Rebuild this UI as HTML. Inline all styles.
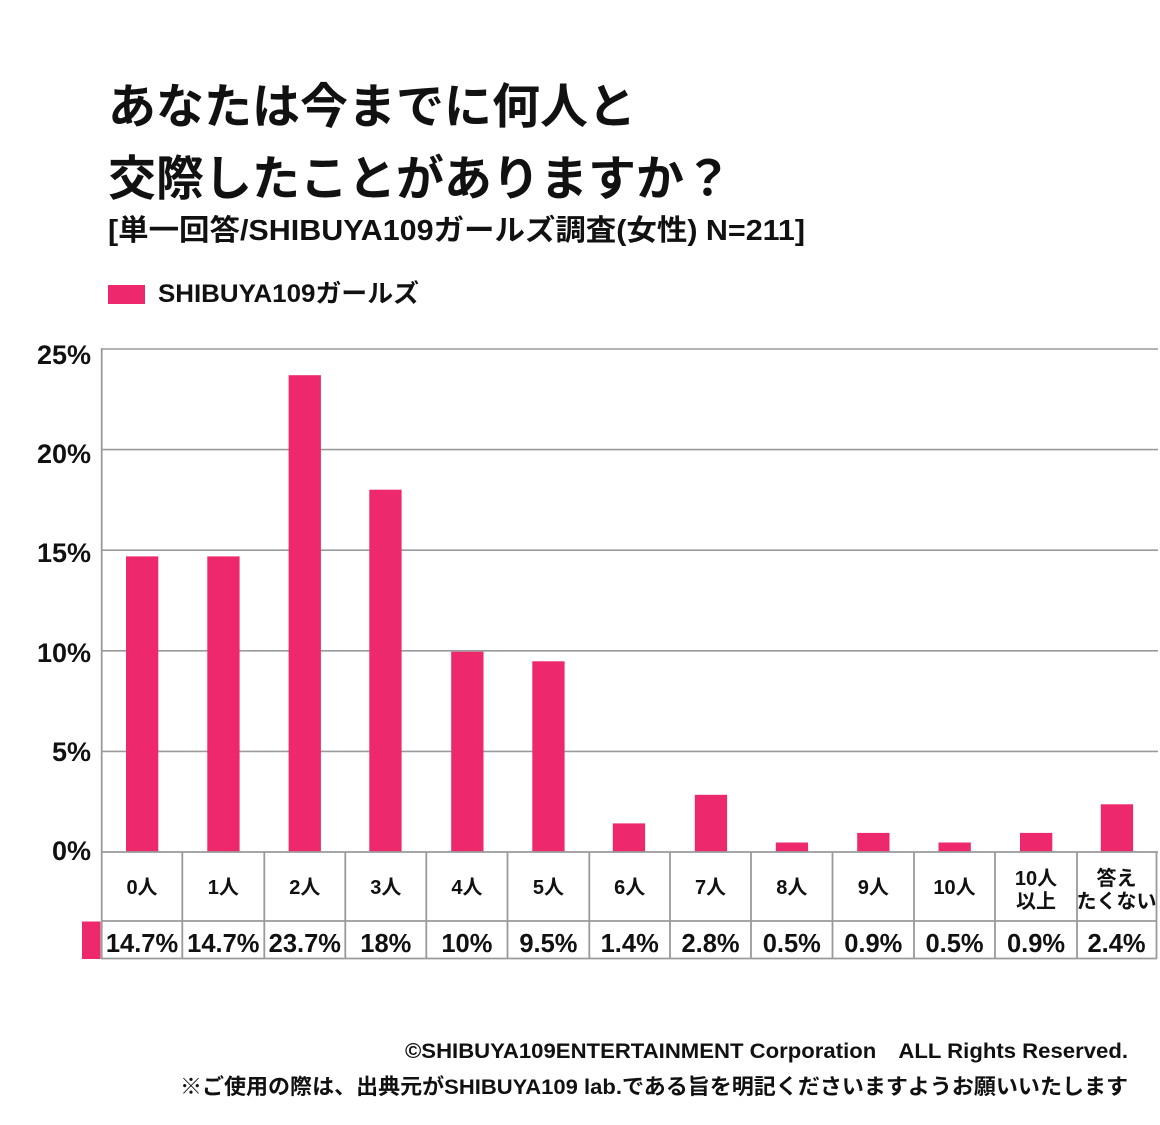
<!DOCTYPE html>
<html lang="ja">
<head>
<meta charset="utf-8">
<style>
  html, body { margin: 0; padding: 0; background: #ffffff; }
  body { width: 1160px; height: 1125px; overflow: hidden; }
  svg { display: block; }
  text { font-family: "Liberation Sans", "Noto Sans CJK JP", sans-serif; font-weight: bold; fill: #111; }
</style>
</head>
<body>
<svg width="1160" height="1125" viewBox="0 0 1160 1125" xmlns="http://www.w3.org/2000/svg">
  <rect x="0" y="0" width="1160" height="1125" fill="#ffffff"/>

  <!-- Title -->
  <text x="108" y="123" font-size="48">あなたは今までに何人と</text>
  <text x="108" y="195" font-size="48">交際したことがありますか？</text>
  <text x="108" y="240" font-size="29" textLength="697" lengthAdjust="spacingAndGlyphs">[単一回答/SHIBUYA109ガールズ調査(女性) N=211]</text>

  <!-- Legend -->
  <rect x="108" y="285" width="37" height="19" fill="#EE286D"/>
  <text x="158" y="302" font-size="25" textLength="261" lengthAdjust="spacingAndGlyphs">SHIBUYA109ガールズ</text>

  <!-- Grid lines -->
  <g stroke="#9a9a9a" stroke-width="1.6" fill="none">
    <line x1="101.7" y1="349" x2="1158" y2="349"/>
    <line x1="101.7" y1="449.6" x2="1158" y2="449.6"/>
    <line x1="101.7" y1="550.2" x2="1158" y2="550.2"/>
    <line x1="101.7" y1="650.8" x2="1158" y2="650.8"/>
    <line x1="101.7" y1="751.4" x2="1158" y2="751.4"/>
  </g>

  <!-- Y labels -->
  <g font-size="27" text-anchor="end">
    <text x="91" y="364">25%</text>
    <text x="91" y="463">20%</text>
    <text x="91" y="562">15%</text>
    <text x="91" y="662">10%</text>
    <text x="91" y="761">5%</text>
    <text x="91" y="860">0%</text>
  </g>

  <!-- Bars -->
  <g fill="#EE286D">
    <rect x="126" y="556.4" width="32.3" height="295.6"/>
    <rect x="207.3" y="556.4" width="32.3" height="295.6"/>
    <rect x="288.6" y="375.2" width="32.3" height="476.8"/>
    <rect x="369.3" y="489.7" width="32.3" height="362.3"/>
    <rect x="451.2" y="651.7" width="32.3" height="200.3"/>
    <rect x="532.3" y="661.3" width="32.3" height="190.7"/>
    <rect x="612.8" y="823.4" width="32.3" height="28.6"/>
    <rect x="694.8" y="794.8" width="32.3" height="57.2"/>
    <rect x="775.8" y="842.5" width="32.3" height="9.5"/>
    <rect x="857.2" y="832.9" width="32.3" height="19.1"/>
    <rect x="938.5" y="842.5" width="32.3" height="9.5"/>
    <rect x="1020" y="832.9" width="32.3" height="19.1"/>
    <rect x="1100.8" y="804.3" width="32.3" height="47.7"/>
  </g>

  <!-- Axis + table lines -->
  <g stroke="#9a9a9a" stroke-width="1.8" fill="none">
    <line x1="101.7" y1="348" x2="101.7" y2="959"/>
    <line x1="101" y1="852" x2="1158" y2="852"/>
    <line x1="101" y1="921" x2="1157" y2="921"/>
    <line x1="101" y1="958.5" x2="1157" y2="958.5"/>
    <line x1="182.3" y1="852" x2="182.3" y2="958.5"/>
    <line x1="264.3" y1="852" x2="264.3" y2="958.5"/>
    <line x1="345.3" y1="852" x2="345.3" y2="958.5"/>
    <line x1="426.3" y1="852" x2="426.3" y2="958.5"/>
    <line x1="507.5" y1="852" x2="507.5" y2="958.5"/>
    <line x1="589.3" y1="852" x2="589.3" y2="958.5"/>
    <line x1="670" y1="852" x2="670" y2="958.5"/>
    <line x1="751" y1="852" x2="751" y2="958.5"/>
    <line x1="832.5" y1="852" x2="832.5" y2="958.5"/>
    <line x1="914" y1="852" x2="914" y2="958.5"/>
    <line x1="995" y1="852" x2="995" y2="958.5"/>
    <line x1="1077" y1="852" x2="1077" y2="958.5"/>
    <line x1="1156.5" y1="852" x2="1156.5" y2="958.5"/>
  </g>

  <!-- Table swatch -->
  <rect x="82" y="921.5" width="18.5" height="37.5" fill="#EE286D"/>

  <!-- Category labels -->
  <g font-size="20" text-anchor="middle">
    <text x="142" y="894">0人</text>
    <text x="223.3" y="894">1人</text>
    <text x="304.8" y="894">2人</text>
    <text x="385.8" y="894">3人</text>
    <text x="466.9" y="894">4人</text>
    <text x="548.4" y="894">5人</text>
    <text x="629.7" y="894">6人</text>
    <text x="710.5" y="894">7人</text>
    <text x="791.8" y="894">8人</text>
    <text x="873.3" y="894">9人</text>
    <text x="954.5" y="894">10人</text>
    <text x="1036" y="885">10人</text>
    <text x="1036" y="908">以上</text>
    <text x="1116.5" y="885">答え</text>
    <text x="1116.5" y="908">たくない</text>
  </g>

  <!-- Values -->
  <g font-size="25.5" text-anchor="middle">
    <text x="142" y="952">14.7%</text>
    <text x="223.3" y="952">14.7%</text>
    <text x="304.8" y="952">23.7%</text>
    <text x="385.8" y="952">18%</text>
    <text x="466.9" y="952">10%</text>
    <text x="548.4" y="952">9.5%</text>
    <text x="629.7" y="952">1.4%</text>
    <text x="710.5" y="952">2.8%</text>
    <text x="791.8" y="952">0.5%</text>
    <text x="873.3" y="952">0.9%</text>
    <text x="954.5" y="952">0.5%</text>
    <text x="1036" y="952">0.9%</text>
    <text x="1116.5" y="952">2.4%</text>
  </g>

  <!-- Footer -->
  <text x="405" y="1058" font-size="21" textLength="723" lengthAdjust="spacingAndGlyphs">©SHIBUYA109ENTERTAINMENT Corporation　ALL Rights Reserved.</text>
  <text x="180" y="1094" font-size="21.5" textLength="948" lengthAdjust="spacingAndGlyphs">※ご使用の際は、出典元がSHIBUYA109 lab.である旨を明記くださいますようお願いいたします</text>
</svg>
</body>
</html>
